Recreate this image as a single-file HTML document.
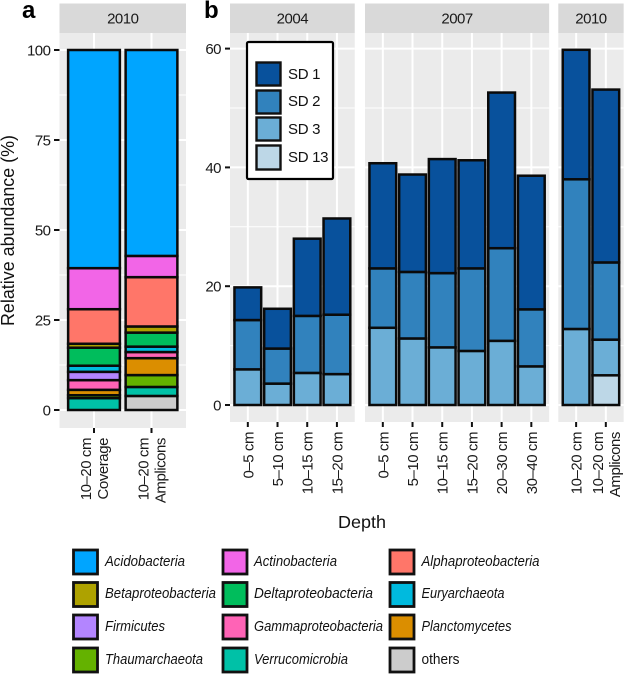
<!DOCTYPE html>
<html>
<head>
<meta charset="utf-8">
<title>Relative abundance chart</title>
<style>
html,body{margin:0;padding:0;background:#fff;}
svg{display:block;font-family:"Liberation Sans",sans-serif;}
</style>
</head>
<body>
<svg id="chart" xmlns="http://www.w3.org/2000/svg" width="624" height="674" viewBox="0 0 624 674">
  <g id="panels"></g>
  <text x="22" y="18" font-size="24" font-weight="bold" fill="#000">a</text>
  <text x="204" y="18" font-size="24" font-weight="bold" fill="#000">b</text>
  <text transform="translate(14,230.5) rotate(-90)" text-anchor="middle" font-size="18" fill="#111" textLength="191" lengthAdjust="spacingAndGlyphs">Relative abundance (%)</text>
  <text x="362" y="528" text-anchor="middle" font-size="17.5" fill="#111" textLength="48" lengthAdjust="spacingAndGlyphs">Depth</text>

  <g>
    <rect x="247" y="42" width="86" height="137" rx="1.5" fill="#fff" stroke="#000" stroke-width="2.2"/>
    <rect x="256.5" y="62.5" width="24" height="23" fill="#08519C" stroke="#111" stroke-width="2.4"/>
    <text x="288" y="79" font-size="15" letter-spacing="-0.3" fill="#111">SD 1</text>
    <rect x="256.5" y="90.5" width="24" height="23" fill="#3182BD" stroke="#111" stroke-width="2.4"/>
    <text x="288" y="106" font-size="15" letter-spacing="-0.3" fill="#111">SD 2</text>
    <rect x="256.5" y="117.5" width="24" height="23" fill="#6BAED6" stroke="#111" stroke-width="2.4"/>
    <text x="288" y="134" font-size="15" letter-spacing="-0.3" fill="#111">SD 3</text>
    <rect x="256.5" y="145.5" width="24" height="24" fill="#BDD7E7" stroke="#111" stroke-width="2.4"/>
    <text x="288" y="162" font-size="15" letter-spacing="-0.3" fill="#111">SD 13</text>
  </g>

  <g font-size="15" font-style="italic" fill="#111">
    <rect x="73.5" y="550" width="24" height="24" fill="#00A5FF" stroke="#111" stroke-width="2.8"/>
    <text x="105" y="566" textLength="80" lengthAdjust="spacingAndGlyphs">Acidobacteria</text>
    <rect x="223" y="550" width="24" height="24" fill="#F265E7" stroke="#111" stroke-width="2.8"/>
    <text x="254" y="566" textLength="83" lengthAdjust="spacingAndGlyphs">Actinobacteria</text>
    <rect x="390" y="550" width="24" height="24" fill="#FF7669" stroke="#111" stroke-width="2.8"/>
    <text x="421.5" y="566" textLength="118" lengthAdjust="spacingAndGlyphs">Alphaproteobacteria</text>

    <rect x="73.5" y="582.5" width="24" height="24" fill="#AEA200" stroke="#111" stroke-width="2.8"/>
    <text x="105" y="598" textLength="111" lengthAdjust="spacingAndGlyphs">Betaproteobacteria</text>
    <rect x="223" y="582.5" width="24" height="24" fill="#00BD5C" stroke="#111" stroke-width="2.8"/>
    <text x="254" y="598" textLength="119" lengthAdjust="spacingAndGlyphs">Deltaproteobacteria</text>
    <rect x="390" y="582.5" width="24" height="24" fill="#00BADE" stroke="#111" stroke-width="2.8"/>
    <text x="421.5" y="598" textLength="83" lengthAdjust="spacingAndGlyphs">Euryarchaeota</text>

    <rect x="73.5" y="615" width="24" height="24" fill="#B385FF" stroke="#111" stroke-width="2.8"/>
    <text x="105" y="631" textLength="60" lengthAdjust="spacingAndGlyphs">Firmicutes</text>
    <rect x="223" y="615" width="24" height="24" fill="#FF63B6" stroke="#111" stroke-width="2.8"/>
    <text x="254" y="631" textLength="129" lengthAdjust="spacingAndGlyphs">Gammaproteobacteria</text>
    <rect x="390" y="615" width="24" height="24" fill="#DB8E00" stroke="#111" stroke-width="2.8"/>
    <text x="421.5" y="631" textLength="90" lengthAdjust="spacingAndGlyphs">Planctomycetes</text>

    <rect x="73.5" y="648" width="24" height="24" fill="#64B200" stroke="#111" stroke-width="2.8"/>
    <text x="105" y="664" textLength="98" lengthAdjust="spacingAndGlyphs">Thaumarchaeota</text>
    <rect x="223" y="648" width="24" height="24" fill="#00C1A7" stroke="#111" stroke-width="2.8"/>
    <text x="254" y="664" textLength="94" lengthAdjust="spacingAndGlyphs">Verrucomicrobia</text>
    <rect x="390" y="648" width="24" height="24" fill="#CCCCCC" stroke="#111" stroke-width="2.8"/>
    <text x="421.5" y="664" font-style="normal" textLength="38" lengthAdjust="spacingAndGlyphs">others</text>
  </g>
</svg>
<script>
// Panel a: stacked composition (stack order, bottom to top)
var taxa = ["others","Verrucomicrobia","Thaumarchaeota","Planctomycetes","Gammaproteobacteria","Firmicutes","Euryarchaeota","Deltaproteobacteria","Betaproteobacteria","Alphaproteobacteria","Actinobacteria","Acidobacteria"];
var taxaColors = ["#CCCCCC","#00C1A7","#64B200","#DB8E00","#FF63B6","#B385FF","#00BADE","#00BD5C","#AEA200","#FF7669","#F265E7","#00A5FF"];
var coverageValues = [0,3.3,0.8,1.5,2.7,2.3,1.7,5,1.1,9.6,11.4,60.6];
var ampliconValues = [3.9,2.5,3.3,4.7,1.7,0,1.5,3.9,1.7,13.7,5.9,57.2];
var compositionTicks = [0,25,50,75,100];
var compositionMinor = [12.5,37.5,62.5,87.5];

// Panel b: stacked depth bars
var categories2004 = ["0–5 cm","5–10 cm","10–15 cm","15–20 cm"];
var categories2007 = ["0–5 cm","5–10 cm","10–15 cm","15–20 cm","20–30 cm","30–40 cm"];
var categories2010 = ["10–20 cm","10–20 cm"];
var sd13Values2004 = [0,0,0,0];
var sd3Values2004 = [6,3.6,5.4,5.2];
var sd2Values2004 = [8.3,5.9,9.6,10];
var sd1Values2004 = [5.5,6.7,13,16.2];
var sd13Values2007 = [0,0,0,0,0,0];
var sd3Values2007 = [13,11.2,9.7,9.1,10.8,6.5];
var sd2Values2007 = [10,11.2,12.5,13.9,15.6,9.6];
var sd1Values2007 = [17.7,16.4,19.2,18.2,26.2,22.5];
var sd13Values2010 = [0,5];
var sd3Values2010 = [12.8,6];
var sd2Values2010 = [25.2,13];
var sd1Values2010 = [21.8,29.1];
var sdColors = ["#BDD7E7","#6BAED6","#3182BD","#08519C"];
var depthTicks = [0,20,40,60];
var depthMinor = [10,30,50];

var NS = "http://www.w3.org/2000/svg";
var root = document.getElementById("panels");

function yA(v){ return 410 - v * 3.6; }
function yB(v){ return 405 - v * 5.94; }

function mk(tag, attrs, parent){
  var el = document.createElementNS(NS, tag);
  for (var k in attrs) el.setAttribute(k, attrs[k]);
  parent.appendChild(el);
  return el;
}

function drawPanelFrame(g, left, width, top, bottom, year, ticksX, yScale, major, minor){
  var bg = mk("rect", {x:left, y:top, width:width, height:bottom-top, fill:"#EBEBEB"}, g);
  
  
  var strip = mk("rect", {x:left, y:3.5, width:width, height:top-3.5, fill:"#D9D9D9"}, g);
  
  
  var stripText = mk("text", {x:left+width/2, y:23.5, "text-anchor":"middle", "font-size":15, "letter-spacing":-0.5, fill:"#1a1a1a"}, g);
  stripText.textContent = year;
  
  
  minor.forEach(function(v){
    var l = mk("line", {x1:left, x2:left+width, y1:yScale(v), y2:yScale(v), stroke:"#fff", "stroke-width":1}, g);
    
    
  });
  major.forEach(function(v){
    var l = mk("line", {x1:left, x2:left+width, y1:yScale(v), y2:yScale(v), stroke:"#fff", "stroke-width":2}, g);
    
    
  });
  ticksX.forEach(function(x){
    var l = mk("line", {x1:x, x2:x, y1:top, y2:bottom, stroke:"#fff", "stroke-width":2}, g);
    
    
    var t = mk("line", {x1:x, x2:x, y1:bottom, y2:bottom+5, stroke:"#111", "stroke-width":2}, g);
    
    
  });
}

function drawYAxis(g, ticks, yScale, tickX1, tickX2, labelX){
  ticks.forEach(function(v){
    var t = mk("line", {x1:tickX1, x2:tickX2, y1:yScale(v), y2:yScale(v), stroke:"#111", "stroke-width":2}, g);
    
    
    var lab = mk("text", {x:labelX, y:yScale(v)+5.5, "text-anchor":"end", "font-size":15, "letter-spacing":-0.5, fill:"#1a1a1a"}, g);
    lab.textContent = String(v);
    
    
  });
}

function rotatedLabel(g, text, cx, topY){
  var t = mk("text", {transform:"translate("+(cx+5.5)+","+topY+") rotate(-90)", "text-anchor":"end", "font-size":15, "letter-spacing":-0.45, fill:"#1a1a1a"}, g);
  t.textContent = text;
  
  
}

function drawStack(g, x, width, segments, colors, yScale){
  var cum = 0;
  segments.forEach(function(v, i){
    if (v <= 0) return;
    var r = mk("rect", {x:x-width/2, y:yScale(cum+v), width:width, height:yScale(cum)-yScale(cum+v), fill:colors[i], stroke:"#0a0a0a", "stroke-width":2.5}, g);
    
    
    cum += v;
  });
}

// Panel a
var gA = mk("g", {}, root);


var stepA = 57.5, leftA = 59.5;
function xA(i){ return leftA + (i + 0.6) * stepA; }
drawPanelFrame(gA, leftA, 2.2*stepA, 33, 428, "2010", [xA(0), xA(1)], yA, compositionTicks, compositionMinor);
drawYAxis(gA, compositionTicks, yA, 54, 59.5, 50.5);
drawStack(gA, xA(0), 0.9*stepA, coverageValues, taxaColors, yA);
drawStack(gA, xA(1), 0.9*stepA, ampliconValues, taxaColors, yA);
rotatedLabel(gA, "10–20 cm", xA(0)-8.5, 438);
rotatedLabel(gA, "Coverage", xA(0)+8.5, 438);
rotatedLabel(gA, "10–20 cm", xA(1)-8.5, 438);
rotatedLabel(gA, "Amplicons", xA(1)+8.5, 438);

// Panel b
var stepB = 29.7;
function drawDepthFacet(year, left, cats, sd13, sd3, sd2, sd1, extra){
  var g = mk("g", {}, root);
  
  
  function x(i){ return left + (i + 0.6) * stepB; }
  var tx = cats.map(function(c, i){ return x(i); });
  drawPanelFrame(g, left, (cats.length + 0.2) * stepB, 33, 422, year, tx, yB, depthTicks, depthMinor);
  cats.forEach(function(c, i){
    drawStack(g, x(i), 0.9*stepB, [sd13[i], sd3[i], sd2[i], sd1[i]], sdColors, yB);
    if (extra && extra[i]) {
      rotatedLabel(g, c, x(i)-8.5, 432);
      rotatedLabel(g, extra[i], x(i)+8.5, 432);
    } else {
      rotatedLabel(g, c, x(i), 432);
    }
  });
  return g;
}
var g2004 = drawDepthFacet("2004", 230, categories2004, sd13Values2004, sd3Values2004, sd2Values2004, sd1Values2004);
drawYAxis(g2004, depthTicks, yB, 225, 230, 221);
drawDepthFacet("2007", 365, categories2007, sd13Values2007, sd3Values2007, sd2Values2007, sd1Values2007);
drawDepthFacet("2010", 558.3, categories2010, sd13Values2010, sd3Values2010, sd2Values2010, sd1Values2010, [null, "Amplicons"]);
</script>
</body>
</html>
